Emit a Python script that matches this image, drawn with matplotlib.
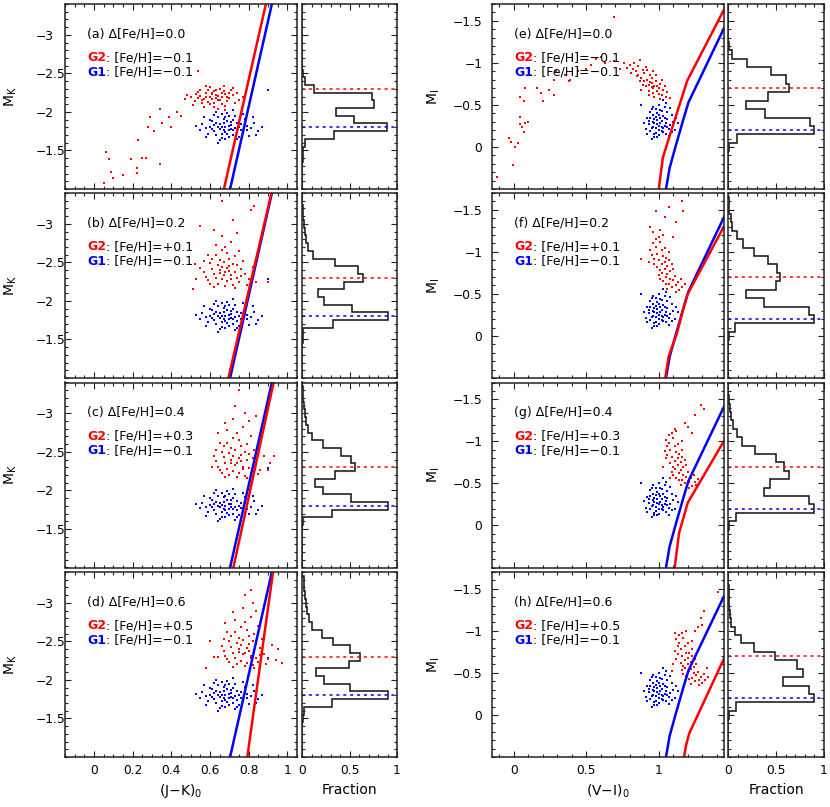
import numpy as np
import matplotlib
matplotlib.use("Agg")
import matplotlib.pyplot as plt
from matplotlib.ticker import MultipleLocator, FixedLocator, FuncFormatter

# ---------------- data ----------------
# G1 red clump stars, [Fe/H]=-0.1 (same population in every row)
g1_K = [(0.68,-1.80),(0.65,-1.78),(0.71,-1.83),(0.63,-1.85),(0.70,-1.76),(0.66,-1.72),(0.73,-1.79),(0.60,-1.81),
        (0.69,-1.88),(0.67,-1.91),(0.74,-1.86),(0.62,-1.75),(0.72,-1.70),(0.64,-1.93),(0.76,-1.77),(0.58,-1.79),
        (0.79,-1.82),(0.70,-1.95),(0.66,-1.66),(0.75,-1.68),(0.61,-1.88),(0.68,-1.74),(0.72,-1.90),(0.64,-1.80),
        (0.77,-1.73),(0.56,-1.84),(0.81,-1.79),(0.69,-1.99),(0.65,-1.63),(0.73,-1.62),(0.59,-1.72),(0.83,-1.86),
        (0.67,-1.85),(0.71,-1.78),(0.63,-1.70),(0.78,-1.91),(0.55,-1.77),(0.85,-1.75),(0.70,-1.82),(0.66,-1.97),
        (0.74,-1.74),(0.62,-1.96),(0.80,-1.69),(0.68,-1.65),(0.60,-1.90),(0.76,-1.84),(0.53,-1.82),(0.87,-1.80),
        (0.72,-2.02),(0.64,-1.60),(0.69,-1.71),(0.73,-1.95),(0.58,-1.67),(0.82,-1.93),(0.67,-1.76),(0.71,-1.87),
        (0.65,-1.84),(0.75,-1.80),(0.61,-1.78),(0.79,-1.76),(0.70,-1.68),(0.63,-2.00),(0.77,-1.97),(0.57,-1.93),
        (0.84,-1.70),(0.68,-1.93),(0.74,-1.65),(0.66,-1.81),(0.72,-1.76),(0.62,-1.83),(0.90,-2.29)]

g1_I = [(1.00,-0.25),(0.97,-0.28),(1.03,-0.22),(0.99,-0.32),(1.02,-0.19),(0.95,-0.23),(1.05,-0.29),(0.98,-0.17),
        (1.01,-0.35),(0.96,-0.30),(1.04,-0.25),(0.93,-0.27),(1.07,-0.21),(1.00,-0.14),(0.99,-0.40),(1.03,-0.37),
        (0.94,-0.19),(1.06,-0.33),(0.97,-0.12),(1.08,-0.26),(0.92,-0.34),(1.02,-0.43),(0.98,-0.22),(1.01,-0.28),
        (0.96,-0.38),(1.05,-0.16),(0.95,-0.45),(1.09,-0.38),(0.91,-0.21),(1.04,-0.48),(1.00,-0.50),(0.97,-0.15),
        (1.06,-0.41),(0.93,-0.31),(1.10,-0.30),(0.99,-0.27),(1.02,-0.31),(0.96,-0.24),(1.03,-0.18),(1.11,-0.20),
        (0.90,-0.29),(1.07,-0.13),(0.94,-0.42),(1.00,-0.20),(0.98,-0.36),(1.05,-0.52),(1.12,-0.35),(0.95,-0.10),
        (1.01,-0.44),(0.97,-0.33),(1.04,-0.34),(0.92,-0.16),(1.08,-0.46),(0.99,-0.12),(1.02,-0.24),(0.88,-0.50),
        (1.13,-0.28),(0.96,-0.48),(1.06,-0.24),(1.00,-0.38),(0.94,-0.35),(1.03,-0.56),(0.98,-0.45),(1.09,-0.18)]

# G2 stars, one list per panel
g2_K_a = [(0.60,-2.20),(0.63,-2.22),(0.57,-2.17),(0.66,-2.19),(0.61,-2.25),(0.68,-2.23),(0.55,-2.21),(0.64,-2.15),
          (0.59,-2.28),(0.70,-2.18),(0.52,-2.14),(0.62,-2.12),(0.67,-2.27),(0.58,-2.24),(0.65,-2.30),(0.72,-2.22),
          (0.54,-2.26),(0.61,-2.17),(0.69,-2.14),(0.56,-2.11),(0.63,-2.28),(0.74,-2.25),(0.50,-2.19),(0.66,-2.10),
          (0.60,-2.32),(0.71,-2.29),(0.57,-2.06),(0.64,-2.21),(0.68,-2.08),(0.53,-2.23),(0.62,-2.07),(0.75,-2.16),
          (0.48,-2.22),(0.59,-2.13),(0.67,-2.33),(0.55,-2.29),(0.73,-2.12),(0.61,-2.23),(0.65,-2.16),(0.58,-2.19),
          (0.70,-2.25),(0.63,-2.18),(0.51,-2.09),(0.77,-2.20),(0.56,-2.16),(0.66,-2.24),(0.60,-2.10),(0.69,-2.20),
          (0.62,-2.27),(0.54,-2.18),(0.72,-2.31),(0.64,-2.04),(0.58,-2.33),(0.47,-2.17),(0.68,-2.03),
          (0.54,-2.53),(0.34,-2.04),(0.29,-1.93),(0.39,-1.93),(0.28,-1.80),(0.35,-1.86),(0.40,-1.80),(0.43,-2.00),
          (0.45,-1.95),(0.23,-1.63),(0.19,-1.39),(0.25,-1.40),(0.27,-1.40),(0.22,-1.27),(0.22,-1.21),(0.34,-1.32),
          (0.06,-1.48),(0.08,-1.39),(0.09,-1.22),(0.10,-1.14),(0.15,-1.18),(0.05,-1.08),(0.31,-1.75)]

g2_K_b = [(0.68,-2.37),(0.65,-2.40),(0.71,-2.33),(0.63,-2.30),(0.70,-2.45),(0.66,-2.28),(0.73,-2.38),(0.61,-2.42),
          (0.69,-2.26),(0.67,-2.50),(0.74,-2.30),(0.62,-2.35),(0.72,-2.48),(0.64,-2.22),(0.76,-2.41),(0.59,-2.27),
          (0.70,-2.55),(0.66,-2.44),(0.75,-2.24),(0.60,-2.49),(0.68,-2.19),(0.73,-2.58),(0.63,-2.60),(0.78,-2.35),
          (0.57,-2.38),(0.71,-2.29),(0.65,-2.53),(0.80,-2.28),(0.62,-2.18),(0.69,-2.62),(0.74,-2.46),(0.58,-2.31),
          (0.67,-2.33),(0.72,-2.20),(0.64,-2.46),(0.77,-2.52),(0.55,-2.43),(0.70,-2.39),(0.66,-2.66),(0.61,-2.55),
          (0.75,-2.65),(0.68,-2.70),(0.73,-2.17),(0.63,-2.72),(0.82,-2.44),(0.59,-2.60),(0.71,-2.77),(0.65,-2.36),
          (0.79,-2.21),(0.53,-2.29),(0.84,-2.25),(0.60,-2.22),(0.76,-2.32),(0.69,-2.43),(0.57,-2.52),
          (0.62,-2.92),(0.66,-2.84),(0.74,-2.88),(0.55,-2.97),(0.72,-3.05),(0.81,-3.18),(0.83,-3.23),(0.66,-3.30),
          (0.90,-2.24),(0.52,-2.48),(0.51,-2.15)]

g2_K_c = [(0.74,-2.35),(0.71,-2.40),(0.77,-2.31),(0.69,-2.28),(0.76,-2.46),(0.72,-2.25),(0.79,-2.39),(0.67,-2.43),
          (0.75,-2.22),(0.73,-2.52),(0.80,-2.29),(0.68,-2.35),(0.78,-2.50),(0.70,-2.20),(0.82,-2.42),(0.65,-2.27),
          (0.76,-2.57),(0.72,-2.45),(0.81,-2.23),(0.66,-2.50),(0.74,-2.18),(0.79,-2.60),(0.69,-2.62),(0.84,-2.34),
          (0.63,-2.38),(0.77,-2.28),(0.71,-2.55),(0.86,-2.27),(0.68,-2.17),(0.75,-2.65),(0.80,-2.47),(0.64,-2.31),
          (0.73,-2.33),(0.78,-2.19),(0.70,-2.48),(0.83,-2.53),(0.62,-2.44),(0.76,-2.38),(0.72,-2.68),(0.67,-2.57),
          (0.81,-2.70),(0.74,-2.75),(0.79,-2.16),(0.69,-2.78),(0.88,-2.45),(0.65,-2.62),(0.77,-2.82),(0.71,-2.36),
          (0.85,-2.21),(0.61,-2.30),(0.90,-2.26),(0.66,-2.23),(0.82,-2.32),(0.75,-2.42),(0.63,-2.53),
          (0.68,-2.88),(0.72,-2.93),(0.80,-2.90),(0.64,-2.74),(0.78,-3.00),(0.73,-3.10),(0.84,-2.97),(0.75,-3.30),
          (0.93,-2.45),(0.91,-2.35),(0.86,-2.60)]

g2_K_d = [(0.78,-2.35),(0.75,-2.40),(0.81,-2.31),(0.73,-2.28),(0.80,-2.46),(0.76,-2.25),(0.83,-2.39),(0.71,-2.43),
          (0.79,-2.22),(0.77,-2.52),(0.84,-2.29),(0.72,-2.35),(0.82,-2.50),(0.74,-2.20),(0.86,-2.42),(0.69,-2.27),
          (0.80,-2.57),(0.76,-2.45),(0.85,-2.23),(0.70,-2.50),(0.78,-2.18),(0.83,-2.60),(0.73,-2.62),(0.88,-2.34),
          (0.67,-2.38),(0.81,-2.28),(0.75,-2.55),(0.90,-2.27),(0.72,-2.17),(0.79,-2.65),(0.84,-2.47),(0.68,-2.31),
          (0.77,-2.33),(0.82,-2.19),(0.74,-2.48),(0.87,-2.53),(0.66,-2.44),(0.80,-2.38),(0.76,-2.68),(0.71,-2.57),
          (0.85,-2.70),(0.78,-2.75),(0.83,-2.16),(0.73,-2.78),(0.92,-2.45),(0.69,-2.62),(0.81,-2.82),(0.75,-2.36),
          (0.89,-2.21),(0.64,-2.30),(0.94,-2.26),(0.70,-2.23),(0.86,-2.32),(0.79,-2.42),(0.67,-2.53),
          (0.72,-2.88),(0.77,-2.93),(0.84,-2.90),(0.68,-2.74),(0.82,-3.00),(0.78,-3.10),(0.88,-2.97),(0.81,-3.16),
          (0.97,-2.22),(0.58,-2.16),(0.62,-2.30),(0.95,-2.40),(0.60,-2.50)]

g2_I_e = [(0.90,-0.78),(0.93,-0.74),(0.96,-0.70),(0.88,-0.82),(0.99,-0.66),(0.92,-0.80),(0.95,-0.76),(0.97,-0.72),
          (0.86,-0.86),(1.00,-0.70),(0.91,-0.72),(0.94,-0.85),(1.02,-0.62),(0.89,-0.74),(0.98,-0.78),(0.84,-0.90),
          (0.96,-0.64),(1.03,-0.68),(0.87,-0.79),(0.93,-0.67),(1.01,-0.75),(0.82,-0.93),(0.95,-0.82),(1.05,-0.60),
          (0.90,-0.88),(0.99,-0.73),(0.85,-0.84),(0.97,-0.60),(0.80,-0.97),(0.92,-0.91),(1.04,-0.72),(0.88,-0.68),
          (0.94,-0.77),(1.06,-0.65),(0.78,-0.94),(0.83,-1.00),(0.76,-1.00),(0.98,-0.86),(0.91,-0.95),(1.02,-0.80),
          (0.86,-0.96),(1.08,-0.58),(0.95,-0.71),(0.89,-0.92),(0.73,-0.93),(1.00,-0.63),(0.81,-0.88),(0.96,-0.90),
          (0.69,-1.02),(0.87,-1.04),(0.93,-0.62),(1.01,-0.57),
          (-0.03,-0.11),(-0.02,-0.06),(0.01,0.00),(0.04,-0.27),(0.06,-0.24),(0.08,-0.28),(0.07,-0.18),(-0.005,0.21),
          (-0.115,0.36),(0.04,-0.36),(0.07,-0.55),(0.04,-0.60),(0.075,-0.70),(0.16,-0.70),(0.19,-0.64),(0.20,-0.55),
          (0.28,-0.62),(0.28,-0.80),(0.29,-0.90),(0.38,-0.78),(0.39,-0.80),(0.44,-0.90),(0.53,-0.97),(0.57,-1.05),
          (0.60,-1.07),(0.69,-1.55),(0.63,-1.00),(0.50,-0.93),(0.35,-0.86),(0.10,-0.30),(0.03,-0.05),(0.24,-0.68)]

g2_I_f = [(1.04,-0.80),(1.02,-0.85),(1.06,-0.74),(1.00,-0.90),(1.08,-0.68),(1.03,-0.95),(1.05,-0.70),(1.01,-0.78),
          (1.07,-0.62),(0.99,-0.98),(1.10,-0.66),(1.04,-0.88),(1.02,-1.02),(1.09,-0.58),(0.98,-1.06),(1.06,-0.83),
          (1.00,-0.72),(1.12,-0.60),(0.97,-0.92),(1.05,-0.93),(1.03,-0.65),(1.11,-0.71),(0.96,-1.10),(1.08,-0.77),
          (1.01,-1.12),(1.14,-0.55),(0.99,-0.82),(1.07,-0.90),(1.04,-1.05),(0.95,-0.96),(1.13,-0.64),(1.02,-0.75),
          (1.06,-0.56),(0.98,-1.15),(1.10,-0.80),(1.00,-1.18),(1.15,-0.68),(0.94,-1.02),(1.05,-0.62),(1.03,-1.20),
          (1.09,-0.86),(0.97,-0.86),(1.16,-0.58),(1.01,-0.68),(1.12,-0.52),(0.93,-0.88),(1.07,-1.00),(1.18,-0.62),
          (0.88,-0.92),(1.20,-0.50),(0.94,-1.30),(0.98,-1.49),(1.07,-1.53),(1.16,-1.61),(1.17,-1.48),(1.12,-1.36),
          (1.04,-1.42),(1.01,-1.26),(1.10,-1.18),(0.96,-1.24)]

g2_I_g = [(1.13,-0.72),(1.11,-0.77),(1.15,-0.66),(1.09,-0.82),(1.17,-0.60),(1.12,-0.87),(1.14,-0.62),(1.10,-0.70),
          (1.16,-0.54),(1.08,-0.90),(1.19,-0.58),(1.13,-0.80),(1.11,-0.94),(1.18,-0.50),(1.07,-0.98),(1.15,-0.75),
          (1.09,-0.64),(1.21,-0.52),(1.06,-0.84),(1.14,-0.85),(1.12,-0.57),(1.20,-0.63),(1.05,-1.02),(1.17,-0.69),
          (1.10,-1.04),(1.23,-0.47),(1.08,-0.74),(1.16,-0.82),(1.13,-0.97),(1.04,-0.88),(1.22,-0.56),(1.11,-0.67),
          (1.15,-0.48),(1.07,-1.07),(1.19,-0.72),(1.09,-1.10),(1.24,-0.60),(1.06,-0.94),(1.14,-0.54),(1.12,-1.12),
          (1.18,-0.78),(1.10,-0.60),(1.25,-0.52),(1.16,-0.90),(1.21,-0.44),(1.05,-0.80),(1.16,-1.00),(1.27,-0.55),
          (1.11,-1.15),(1.20,-1.17),(1.23,-1.10),(1.25,-1.31),(1.29,-1.43),(1.31,-1.39),(1.18,-1.22),(1.08,-0.56),
          (1.26,-0.48),(1.03,-0.70)]

g2_I_h = [(1.20,-0.60),(1.18,-0.65),(1.22,-0.55),(1.16,-0.70),(1.24,-0.50),(1.19,-0.74),(1.21,-0.52),(1.17,-0.58),
          (1.23,-0.44),(1.15,-0.78),(1.26,-0.47),(1.20,-0.68),(1.18,-0.82),(1.25,-0.40),(1.14,-0.86),(1.22,-0.63),
          (1.16,-0.53),(1.28,-0.42),(1.13,-0.72),(1.21,-0.74),(1.19,-0.46),(1.27,-0.51),(1.12,-0.90),(1.24,-0.57),
          (1.17,-0.92),(1.30,-0.38),(1.15,-0.62),(1.23,-0.70),(1.20,-0.85),(1.11,-0.76),(1.29,-0.45),(1.18,-0.56),
          (1.22,-0.37),(1.14,-0.95),(1.26,-0.60),(1.16,-0.98),(1.31,-0.49),(1.13,-0.82),(1.21,-0.43),(1.19,-1.00),
          (1.25,-0.66),(1.17,-0.49),(1.32,-0.41),(1.23,-0.78),(1.28,-0.36),(1.12,-0.67),(1.23,-0.88),(1.34,-0.45),
          (1.11,-0.98),(1.27,-1.05),(1.30,-1.07),(1.31,-1.24),(1.29,-1.15),(1.25,-1.00),(1.09,-0.52),(1.33,-0.56),
          (1.10,-0.60),(1.41,-1.46)]

# isochrones (RGB), K band: straight lines from M_K=-1.0 to -3.4
iso_K_mag = [-1.0, -3.4]
iso_K_blue = [0.704, 0.920]
iso_K_red = [[0.672, 0.889], [0.695, 0.918], [0.721, 0.929], [0.793, 0.926]]

# isochrones, I band
iso_I_blue = ([1.05, 1.075, 1.115, 1.17, 1.205, 1.455], [0.5, 0.25, 0.0, -0.33, -0.53, -1.43])
iso_I_red = [([1.00, 1.028, 1.06, 1.13, 1.197, 1.455], [0.5, 0.13, -0.05, -0.43, -0.79, -1.65]),
             ([1.045, 1.068, 1.125, 1.167, 1.197, 1.455], [0.5, 0.245, -0.03, -0.31, -0.49, -1.32]),
             ([1.11, 1.14, 1.20, 1.455], [0.5, 0.09, -0.27, -1.02]),
             ([1.174, 1.19, 1.21, 1.455], [0.5, 0.35, 0.22, -0.69])]

# luminosity function histograms (fraction), 0.1 mag bins
K_bin_edges = np.arange(-3.35, -1.0, 0.1)     # centres -3.3 ... -1.1
K_hist = [
    [0, 0, 0, 0, 0, 0, 0, 0.005, 0.01, 0.03, 0.13, 0.74, 0.755, 0.36, 0.55, 0.89, 0.34, 0.03, 0.01, 0.01, 0.005, 0.005, 0.005],
    [0.005, 0.01, 0.01, 0.02, 0.03, 0.045, 0.06, 0.12, 0.35, 0.59, 0.64, 0.44, 0.17, 0.23, 0.53, 0.90, 0.33, 0.015, 0.01, 0.005, 0, 0, 0],
    [0.01, 0.01, 0.02, 0.03, 0.045, 0.06, 0.105, 0.22, 0.41, 0.52, 0.56, 0.35, 0.14, 0.22, 0.52, 0.90, 0.32, 0.015, 0.005, 0, 0, 0, 0],
    [0.02, 0.02, 0.03, 0.04, 0.05, 0.07, 0.10, 0.21, 0.33, 0.51, 0.61, 0.49, 0.15, 0.23, 0.51, 0.90, 0.32, 0.02, 0.01, 0, 0, 0, 0],
]
I_bin_edges = np.arange(-1.65, 0.5, 0.1)      # centres -1.6 ... 0.4
I_hist = [
    [0, 0, 0, 0.005, 0.01, 0.04, 0.20, 0.45, 0.60, 0.64, 0.42, 0.19, 0.39, 0.85, 0.90, 0.09, 0.01, 0.005, 0.005, 0, 0],
    [0.01, 0.015, 0.03, 0.04, 0.09, 0.16, 0.27, 0.42, 0.51, 0.54, 0.50, 0.19, 0.37, 0.84, 0.90, 0.07, 0.01, 0, 0, 0, 0],
    [0.005, 0.01, 0.02, 0.03, 0.05, 0.09, 0.15, 0.28, 0.50, 0.58, 0.64, 0.44, 0.38, 0.84, 0.90, 0.08, 0.01, 0, 0, 0, 0],
    [0.005, 0.01, 0.01, 0.015, 0.02, 0.035, 0.07, 0.14, 0.27, 0.49, 0.72, 0.78, 0.57, 0.84, 0.90, 0.08, 0.01, 0, 0, 0, 0],
]

# mean magnitudes of the two groups (dotted lines in the histograms)
K_mean_g2, K_mean_g1 = -2.3, -1.8
I_mean_g2, I_mean_g1 = -0.7, -0.2

# labelled magnitude ticks
K_ticks = [-3.0, -2.5, -2.0, -1.5]
I_ticks = [-1.5, -1.0, -0.5, 0.0]

labels_K = ["a", "b", "c", "d"]
labels_I = ["e", "f", "g", "h"]
dfeh = ["0.0", "0.2", "0.4", "0.6"]
feh_g2 = ["\u22120.1", "+0.1", "+0.3", "+0.5"]
feh_g1 = "\u22120.1"
g2_K = [g2_K_a, g2_K_b, g2_K_c, g2_K_d]
g2_I = [g2_I_e, g2_I_f, g2_I_g, g2_I_h]

# ---------------- figure ----------------
plt.rcParams["font.family"] = "DejaVu Sans"
plt.rcParams["mathtext.default"] = "regular"
W, H = 830, 807
fig = plt.figure(figsize=(8.3, 8.07), dpi=100)

row_tops = [4, 193, 382.5, 572]
PH = 185
TXT = 9


def box(x0, x1, top):
    return [x0 / W, 1 - (top + PH) / H, (x1 - x0) / W, PH / H]


def tick_fmt(v, pos):
    v = round(v, 6)
    if v == 0:
        v = 0.0
    return ("%g" % v).replace("-", "\u2212")


def style(ax, xmaj, xmin, yticks, ymin):
    ax.xaxis.set_major_locator(MultipleLocator(xmaj))
    ax.xaxis.set_minor_locator(MultipleLocator(xmin))
    ax.yaxis.set_major_locator(FixedLocator(yticks))
    ax.yaxis.set_minor_locator(MultipleLocator(ymin))
    ax.xaxis.set_major_formatter(FuncFormatter(tick_fmt))
    ax.yaxis.set_major_formatter(FuncFormatter(tick_fmt))
    ax.tick_params(which="both", direction="in", top=True, right=True, width=0.8,
                   labelsize=8.8, color="#222222")
    ax.tick_params(which="major", length=4.5)
    ax.tick_params(which="minor", length=2.3)
    ax.tick_params(axis="x", pad=5)
    for s in ax.spines.values():
        s.set_linewidth(1.1)
        s.set_color("#222222")


def add_labels(ax, letter, dval, g2val):
    ax.text(0.095, 0.84, "(%s) \u0394[Fe/H]=%s" % (letter, dval), transform=ax.transAxes,
            va="center", fontsize=TXT)
    t2 = ax.text(0.095, 0.71, "G2", color="red", fontweight="bold", transform=ax.transAxes,
                 va="center", fontsize=TXT)
    ax.annotate(": [Fe/H]=" + g2val, xy=(1, 0.5), xycoords=t2, va="center", fontsize=TXT)
    t1 = ax.text(0.095, 0.63, "G1", color="blue", fontweight="bold", transform=ax.transAxes,
                 va="center", fontsize=TXT)
    ax.annotate(": [Fe/H]=" + feh_g1, xy=(1, 0.5), xycoords=t1, va="center", fontsize=TXT)


for i in range(4):
    top = row_tops[i]
    last = i == 3

    # ---- K band (left) ----
    ax = fig.add_axes(box(65, 297, top))
    b = np.array(g1_K)
    r = np.array(g2_K[i])
    ax.scatter(b[:, 0], b[:, 1], s=3, c="blue", marker="s", linewidths=0)
    ax.scatter(r[:, 0], r[:, 1], s=3, c="red", marker="s", linewidths=0)
    ax.plot(iso_K_blue, iso_K_mag, color="blue", lw=1.8)
    ax.plot(iso_K_red[i], iso_K_mag, color="red", lw=1.8)
    ax.set_xlim(-0.15, 1.05)
    ax.set_ylim(-1.0, -3.4)
    style(ax, 0.2, 0.05, K_ticks, 0.1)
    ax.tick_params(axis="y", pad=21)
    plt.setp(ax.get_yticklabels(), ha="left")
    ax.set_ylabel("M$_K$", fontsize=10)
    ax.yaxis.set_label_coords(-0.2, 0.5)
    add_labels(ax, labels_K[i], dfeh[i], feh_g2[i])
    if last:
        ax.set_xlabel("(J\u2212K)$_0$", fontsize=10)
    else:
        ax.tick_params(labelbottom=False)

    axh = fig.add_axes(box(302, 397, top))
    axh.stairs(K_hist[i], K_bin_edges, orientation="horizontal", color="#111111", lw=1.1)
    axh.axhline(K_mean_g2, color="red", ls=(0, (2, 2.5)), lw=1.1)
    axh.axhline(K_mean_g1, color="blue", ls=(0, (2, 2.5)), lw=1.1)
    axh.set_xlim(0, 1)
    axh.set_ylim(-1.0, -3.4)
    style(axh, 0.5, 0.1, K_ticks, 0.1)
    axh.tick_params(labelleft=False)
    if last:
        axh.set_xlabel("Fraction", fontsize=10)
    else:
        axh.tick_params(labelbottom=False)

    # ---- I band (right) ----
    ax = fig.add_axes(box(492, 724, top))
    b = np.array(g1_I)
    r = np.array(g2_I[i])
    ax.scatter(b[:, 0], b[:, 1], s=3, c="blue", marker="s", linewidths=0)
    ax.scatter(r[:, 0], r[:, 1], s=3, c="red", marker="s", linewidths=0)
    ax.plot(iso_I_blue[0], iso_I_blue[1], color="blue", lw=1.8)
    ax.plot(iso_I_red[i][0], iso_I_red[i][1], color="red", lw=1.8)
    ax.set_xlim(-0.15, 1.45)
    ax.set_ylim(0.5, -1.7)
    style(ax, 0.5, 0.1, I_ticks, 0.1)
    ax.tick_params(axis="y", pad=7)
    ax.set_ylabel("M$_I$", fontsize=10)
    ax.yaxis.set_label_coords(-0.215, 0.5)
    add_labels(ax, labels_I[i], dfeh[i], feh_g2[i])
    if last:
        ax.set_xlabel("(V\u2212I)$_0$", fontsize=10)
    else:
        ax.tick_params(labelbottom=False)

    axh = fig.add_axes(box(728, 824, top))
    axh.stairs(I_hist[i], I_bin_edges, orientation="horizontal", color="#111111", lw=1.1)
    axh.axhline(I_mean_g2, color="red", ls=(0, (2, 2.5)), lw=1.1)
    axh.axhline(I_mean_g1, color="blue", ls=(0, (2, 2.5)), lw=1.1)
    axh.set_xlim(0, 1)
    axh.set_ylim(0.5, -1.7)
    style(axh, 0.5, 0.1, I_ticks, 0.1)
    axh.tick_params(labelleft=False)
    if last:
        axh.set_xlabel("Fraction", fontsize=10)
    else:
        axh.tick_params(labelbottom=False)

fig.savefig("out.png", dpi=100)
